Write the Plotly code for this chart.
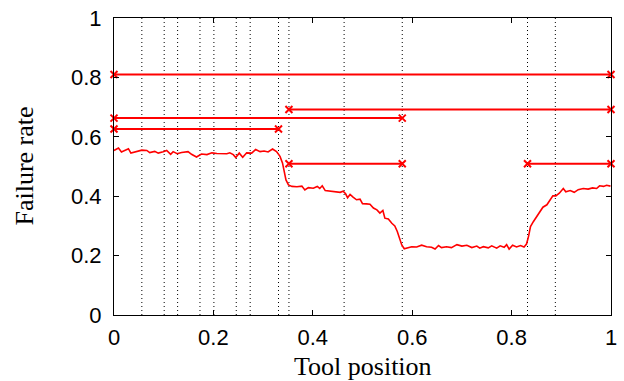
import plotly.graph_objects as go

# Failure-rate curve
curve_x = [0.000, 0.009, 0.015, 0.022, 0.029, 0.034, 0.046, 0.056, 0.066, 0.072,
           0.082, 0.089, 0.099, 0.106, 0.114, 0.119, 0.127, 0.136, 0.149, 0.156,
           0.166, 0.176, 0.187, 0.197, 0.207, 0.217, 0.227, 0.233, 0.240, 0.245,
           0.252, 0.259, 0.267, 0.277, 0.285, 0.294, 0.302, 0.310, 0.319, 0.327,
           0.334, 0.339, 0.343, 0.346, 0.351, 0.358, 0.368, 0.378, 0.384, 0.391,
           0.401, 0.409, 0.414, 0.419, 0.425, 0.435, 0.445, 0.455, 0.461, 0.466,
           0.470, 0.475, 0.481, 0.488, 0.495, 0.500, 0.508, 0.515, 0.522, 0.529,
           0.535, 0.541, 0.545, 0.552, 0.559, 0.565, 0.570, 0.575, 0.579, 0.584,
           0.592, 0.599, 0.609, 0.619, 0.629, 0.639, 0.646, 0.653, 0.659, 0.669,
           0.679, 0.690, 0.700, 0.710, 0.720, 0.730, 0.736, 0.743, 0.753, 0.760,
           0.770, 0.777, 0.785, 0.790, 0.795, 0.802, 0.810, 0.818, 0.825, 0.830,
           0.834, 0.838, 0.844, 0.850, 0.857, 0.863, 0.871, 0.877, 0.883, 0.889,
           0.896, 0.904, 0.909, 0.918, 0.926, 0.934, 0.944, 0.954, 0.963, 0.971,
           0.977, 0.985, 0.991, 0.999]
curve_y = [0.554, 0.562, 0.549, 0.554, 0.560, 0.545, 0.551, 0.555, 0.554, 0.547,
           0.551, 0.545, 0.550, 0.554, 0.541, 0.550, 0.543, 0.547, 0.550, 0.541,
           0.532, 0.542, 0.540, 0.546, 0.544, 0.544, 0.543, 0.546, 0.540, 0.530,
           0.545, 0.531, 0.546, 0.545, 0.557, 0.550, 0.552, 0.549, 0.559, 0.550,
           0.534, 0.512, 0.478, 0.455, 0.438, 0.433, 0.432, 0.434, 0.421, 0.429,
           0.427, 0.433, 0.426, 0.435, 0.419, 0.417, 0.415, 0.413, 0.417, 0.408,
           0.395, 0.406, 0.397, 0.388, 0.390, 0.375, 0.374, 0.373, 0.360, 0.354,
           0.343, 0.352, 0.326, 0.323, 0.309, 0.300, 0.281, 0.253, 0.236, 0.223,
           0.227, 0.230, 0.229, 0.235, 0.230, 0.228, 0.222, 0.234, 0.227, 0.230,
           0.227, 0.237, 0.232, 0.235, 0.227, 0.232, 0.225, 0.230, 0.226, 0.233,
           0.225, 0.233, 0.228, 0.237, 0.222, 0.235, 0.229, 0.234, 0.229, 0.239,
           0.264, 0.298, 0.315, 0.330, 0.345, 0.363, 0.371, 0.388, 0.401, 0.401,
           0.410, 0.426, 0.415, 0.419, 0.413, 0.422, 0.426, 0.424, 0.428, 0.426,
           0.435, 0.433, 0.437, 0.434]

# Vertical dotted boundaries
vlines_x = [0.056, 0.101, 0.128, 0.173, 0.201, 0.246, 0.274, 0.331, 0.352,
            0.463, 0.580, 0.832, 0.888]

# Horizontal interval segments
seg_y = [0.810, 0.692, 0.663, 0.626, 0.509, 0.509]
seg_x0 = [0.000, 0.352, 0.000, 0.000, 0.352, 0.832]
seg_x1 = [1.000, 1.000, 0.580, 0.331, 0.580, 1.000]

tick_vals = [0, 0.2, 0.4, 0.6, 0.8, 1]
tick_text = ["0", "0.2", "0.4", "0.6", "0.8", "1"]

x_title = "Tool position"
y_title = "Failure rate"

RED = "#ff0000"
SANS = "Liberation Sans, Arial, Helvetica, sans-serif"
SERIF = "Liberation Serif, Times New Roman, serif"

fig = go.Figure()

vx, vy = [], []
for xv in vlines_x:
    vx += [xv, xv, None]
    vy += [0, 1, None]
fig.add_trace(go.Scatter(x=vx, y=vy, mode="lines",
                         line=dict(color="black", width=1, dash="1px,3px"),
                         hoverinfo="skip", showlegend=False))

sx, sy = [], []
for y, a, b in zip(seg_y, seg_x0, seg_x1):
    sx += [a, b, None]
    sy += [y, y, None]
fig.add_trace(go.Scatter(x=sx, y=sy, mode="lines+markers",
                         line=dict(color=RED, width=2),
                         marker=dict(symbol="x-thin", size=7,
                                     line=dict(color=RED, width=2)),
                         cliponaxis=False, showlegend=False))

fig.add_trace(go.Scatter(x=curve_x, y=curve_y, mode="lines",
                         line=dict(color=RED, width=1.6),
                         showlegend=False))

axis_common = dict(
    range=[0, 1], showgrid=False, zeroline=False, automargin=False,
    showline=True, linecolor="black", linewidth=1, mirror="ticks",
    ticks="inside", ticklen=5, tickwidth=1, tickcolor="black",
    tickvals=tick_vals, ticktext=tick_text,
    tickfont=dict(family=SANS, size=22, color="black"),
)

fig.update_xaxes(**axis_common, ticklabelstandoff=3)
fig.update_yaxes(**axis_common, ticklabelstandoff=7)

fig.add_annotation(text=x_title, xref="paper", yref="paper",
                   x=0.5, y=-0.172, xanchor="center", yanchor="middle",
                   showarrow=False, font=dict(family=SERIF, size=26, color="black"))
fig.add_annotation(text=y_title, xref="paper", yref="paper",
                   x=-0.181, y=0.5, xanchor="center", yanchor="middle",
                   textangle=-90, showarrow=False,
                   font=dict(family=SERIF, size=26, color="black"))

fig.update_layout(
    width=624, height=381,
    margin=dict(l=114, r=13, t=18, b=66),
    paper_bgcolor="white", plot_bgcolor="white",
    showlegend=False,
)

fig.write_html("out.html",
               config={"displayModeBar": False},
               post_script="document.body.style.margin='0';"
                           "document.body.style.overflow='hidden';")
